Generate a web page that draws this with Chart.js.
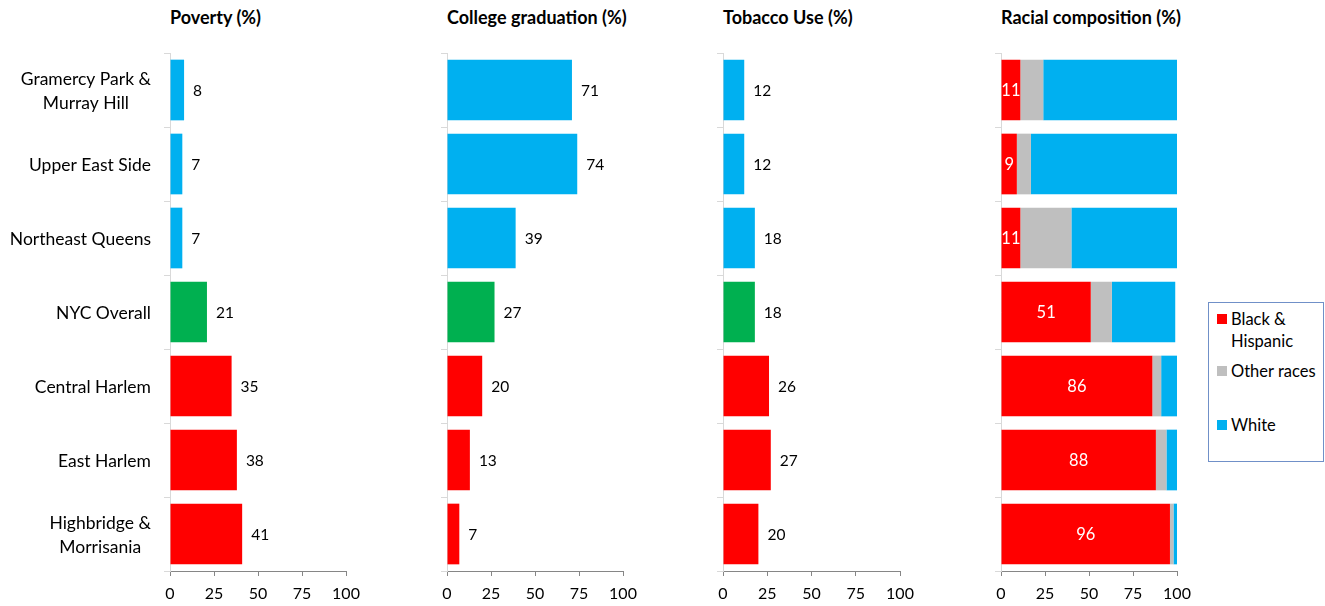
<!DOCTYPE html>
<html>
<head>
<meta charset="utf-8">
<script src="https://cdn.jsdelivr.net/npm/chart.js@4.4.0/dist/chart.umd.min.js"></script>
<style>
  body { margin: 0; background: #fff; font-family: Lato, "Open Sans", sans-serif; }
  #wrap { position: relative; width: 1325px; height: 606px; overflow: hidden; }
  .panel { position: absolute; top: 40px; height: 566px; }
  .title { position: absolute; top: 6px; font-weight: bold; font-size: 18px; color: #000; white-space: nowrap; }
  #legend { position: absolute; left: 1208px; top: 302px; width: 114px; height: 158px; border: 1px solid #7090c8; }
  .sw { position: absolute; left: 8px; width: 10px; height: 10px; }
  .lt { position: absolute; left: 22px; font-size: 16.5px; line-height: 22px; color: #000; white-space: nowrap; }
</style>
</head>
<body>
<div id="wrap">
  <div class="title" style="left:170px">Poverty (%)</div>
  <div class="title" style="left:447px">College graduation (%)</div>
  <div class="title" style="left:723px">Tobacco Use (%)</div>
  <div class="title" style="left:1001px">Racial composition (%)</div>

  <div class="panel" style="left:0px;width:370px"><canvas id="poverty"></canvas></div>
  <div class="panel" style="left:433px;width:214px"><canvas id="college"></canvas></div>
  <div class="panel" style="left:709px;width:215px"><canvas id="tobacco"></canvas></div>
  <div class="panel" style="left:987px;width:214px"><canvas id="race"></canvas></div>

  <div id="legend">
    <div class="sw" style="top:11px;background:#ff0000"></div>
    <div class="lt" style="top:5px">Black &amp;<br>Hispanic</div>
    <div class="sw" style="top:63px;background:#bfbfbf"></div>
    <div class="lt" style="top:57px">Other races</div>
    <div class="sw" style="top:117px;background:#00b0f0"></div>
    <div class="lt" style="top:111px">White</div>
  </div>
</div>

<script>
// data
const neighborhoods = [['Gramercy Park &', 'Murray Hill'], 'Upper East Side', 'Northeast Queens',
  'NYC Overall', 'Central Harlem', 'East Harlem', ['Highbridge &', 'Morrisania']];
const povertyPct = [8, 7, 7, 21, 35, 38, 41];
const collegePct = [71, 74, 39, 27, 20, 13, 7];
const tobaccoPct = [12, 12, 18, 18, 26, 27, 20];
const blackHispanicPct = [11, 9, 11, 51, 86, 88, 96];
const otherRacesPct = [13, 8, 29, 12, 5, 6, 2];
const whitePct = [76, 83, 60, 36, 9, 6, 2];
const xTicks = [0, 25, 50, 75, 100];

const FONT = 'Lato, "Open Sans", sans-serif';
const BLUE = '#00b0f0', GREEN = '#00b050', RED = '#ff0000', GREY = '#bfbfbf';
// top three rows are the richer areas, then NYC, then the poorer areas
const rowColors = neighborhoods.map((_, i) => i < 3 ? BLUE : (i === 3 ? GREEN : RED));

// value labels next to (or inside) the bars
const valueLabels = {
  id: 'valueLabels',
  afterDatasetsDraw(chart, args, o) {
    if (!o.mode) return;
    const ctx = chart.ctx;
    const meta = chart.getDatasetMeta(0);
    const data = chart.data.datasets[0].data;
    ctx.save();
    ctx.font = (o.mode === 'inside' ? '16.5px ' : '15.5px ') + FONT;
    ctx.textBaseline = 'middle';
    meta.data.forEach((bar, i) => {
      if (o.mode === 'inside') {
        ctx.fillStyle = '#fff';
        ctx.textAlign = 'center';
        ctx.fillText(data[i], (bar.base + bar.x) / 2, bar.y + 1);
      } else {
        ctx.fillStyle = '#000';
        ctx.textAlign = 'left';
        ctx.fillText(data[i], bar.x + 9, bar.y + 1);
      }
    });
    ctx.restore();
  }
};

// category names: right aligned as a block, lines centred within it
const catLabels = {
  id: 'catLabels',
  afterDraw(chart, args, o) {
    if (!o.show) return;
    const ys = chart.scales.y, ctx = chart.ctx;
    ctx.save();
    ctx.font = '17.5px ' + FONT;
    ctx.fillStyle = '#000';
    ctx.textAlign = 'center';
    ctx.textBaseline = 'middle';
    chart.data.labels.forEach((lab, i) => {
      const lines = Array.isArray(lab) ? lab : [lab];
      const w = Math.max(...lines.map(l => ctx.measureText(l).width));
      const cx = o.right - w / 2;
      const cy = ys.getPixelForValue(i) + 1;
      lines.forEach((l, k) => ctx.fillText(l, cx, cy + (k - (lines.length - 1) / 2) * 24));
    });
    ctx.restore();
  }
};

function makePanel(id, datasets, yWidth, labelMode, showCats, stacked) {
  return new Chart(document.getElementById(id), {
    type: 'bar',
    data: { labels: neighborhoods, datasets: datasets },
    plugins: [valueLabels, catLabels],
    options: {
      indexAxis: 'y',
      responsive: true,
      maintainAspectRatio: false,
      animation: false,
      layout: { padding: { top: 13, right: 24, left: 0, bottom: 0 } },
      datasets: { bar: { barPercentage: 0.82, categoryPercentage: 1.0, borderWidth: 0 } },
      plugins: {
        legend: { display: false },
        tooltip: { enabled: false },
        valueLabels: { mode: labelMode },
        catLabels: { show: showCats, right: 151 }
      },
      scales: {
        x: {
          stacked: stacked,
          min: 0, max: 100,
          afterBuildTicks: s => { s.ticks = xTicks.map(v => ({ value: v })); },
          grid: { drawOnChartArea: false, tickLength: 5, color: '#868686' },
          border: { color: '#868686' },
          ticks: { color: '#000', font: { family: FONT, size: 16 }, padding: 8, maxRotation: 0 },
          afterFit: s => { s.height = 35; }
        },
        y: {
          stacked: stacked,
          grid: { offset: true, drawOnChartArea: false, tickLength: 6, color: '#d9d9d9' },
          border: { color: '#d9d9d9' },
          ticks: { display: false },
          afterFit: s => { s.width = yWidth; }
        }
      }
    }
  });
}

makePanel('poverty', [{ data: povertyPct, backgroundColor: rowColors }], 170, 'outside', true, false);
makePanel('college', [{ data: collegePct, backgroundColor: rowColors }], 14, 'outside', false, false);
makePanel('tobacco', [{ data: tobaccoPct, backgroundColor: rowColors }], 14, 'outside', false, false);
makePanel('race', [
  { label: 'Black & Hispanic', data: blackHispanicPct, backgroundColor: RED },
  { label: 'Other races', data: otherRacesPct, backgroundColor: GREY },
  { label: 'White', data: whitePct, backgroundColor: BLUE }
], 14, 'inside', false, true);
</script>
</body>
</html>
